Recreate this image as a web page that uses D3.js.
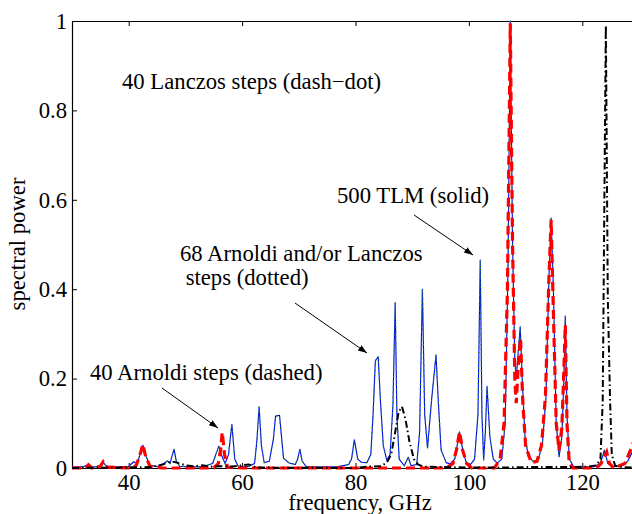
<!DOCTYPE html>
<html>
<head>
<meta charset="utf-8">
<script src="https://cdn.jsdelivr.net/npm/d3@7"></script>
<style>
  body { margin: 0; background: #fff; }
  svg { display: block; }
  text { font-family: "Liberation Serif", "Times New Roman", serif; font-size: 22.7px; fill: #000; }
</style>
</head>
<body>
<svg id="chart" width="632" height="514"></svg>
<script>
// frequency (GHz), spectral power
var tlm500 = [
  [30,0.002],[32,0.003],[32.9,0.008],[33.6,0.002],[35,0.004],[35.5,0.012],[36.2,0.003],[38,0.002],
  [40,0.004],[40.9,0.014],[41.5,0.01],[42,0.03],[42.5,0.051],[43,0.028],[43.7,0.006],[45,0.003],
  [46.2,0.01],[46.8,0.016],[47.3,0.01],[47.7,0.03],[48,0.042],[48.4,0.015],[49,0.004],[51,0.002],
  [53,0.003],[54.8,0.01],[55.5,0.035],[55.9,0.049],[56.4,0.028],[57,0.01],[57.6,0.03],[58.2,0.098],
  [58.7,0.02],[59.3,0.004],[61,0.003],[62.2,0.01],[62.6,0.06],[63,0.137],[63.4,0.05],[63.9,0.012],
  [64.8,0.015],[65.5,0.063],[65.9,0.116],[66.6,0.118],[67,0.063],[67.3,0.022],[68.3,0.011],[69.4,0.008],
  [69.8,0.02],[70.2,0.042],[70.6,0.015],[71.3,0.003],[74,0.002],[77,0.003],[78.8,0.008],[79.3,0.02],
  [79.8,0.063],[80.4,0.02],[81,0.013],[82,0.012],[82.7,0.03],[83.1,0.12],[83.5,0.24],[84,0.249],
  [84.4,0.15],[84.9,0.05],[85.5,0.018],[86.1,0.03],[86.6,0.14],[87,0.37],[87.3,0.12],[87.7,0.02],
  [88.6,0.005],[89.3,0.024],[89.8,0.005],[90.8,0.008],[91.3,0.08],[91.8,0.4],[92.2,0.12],[92.7,0.045],
  [93.4,0.15],[94.2,0.253],[94.6,0.15],[95.1,0.04],[96,0.012],[96.7,0.009],[97.5,0.02],[98.35,0.081],
  [99,0.035],[99.6,0.01],[100.3,0.008],[101,0.02],[101.6,0.12],[102,0.465],[102.3,0.12],[102.6,0.018],
  [102.9,0.08],[103.2,0.183],[103.7,0.07],[104.3,0.02],[105,0.011],[105.8,0.02],[106.4,0.1],[106.9,0.45],
  [107.3,1.0],[107.7,0.5],[108.1,0.24],[108.35,0.2],[108.7,0.26],[109.05,0.316],[109.4,0.2],[109.9,0.07],
  [110.5,0.025],[111.5,0.013],[112.3,0.02],[113,0.06],[113.6,0.16],[114.1,0.42],[114.5,0.559],[114.9,0.4],
  [115.4,0.1],[115.9,0.025],[116.4,0.07],[116.75,0.2],[117,0.34],[117.3,0.12],[117.7,0.02],[118.5,0.003],
  [120,0.002],[122,0.003],[123.2,0.01],[123.9,0.04],[124.5,0.01],[125.5,0.003],[127,0.005],[128,0.015],
  [128.8,0.035],[130,0.06]
];

// 68 Arnoldi and/or Lanczos steps coincide with the TLM reference
var arnoldiLanczos68 = tlm500;

var arnoldi40 = [
  [30,0],[32.4,0],[32.9,0.007],[33.5,0],[35,0.004],[35.5,0.014],[36.2,0.002],[40,0],
  [41.3,0.005],[42,0.03],[42.5,0.053],[43,0.025],[43.8,0.003],[46,0],[55,0],[55.8,0.01],
  [56.2,0.04],[56.5,0.08],[56.9,0.03],[57.4,0.002],[60,0],[96,0],[97.2,0.01],[97.8,0.04],
  [98.35,0.081],[98.9,0.04],[99.6,0.01],[100.5,0],[104.5,0],[105.5,0.02],[106.2,0.1],[106.8,0.4],
  [107.3,0.995],[107.7,0.5],[108.1,0.2],[108.35,0.145],[108.75,0.24],[109.1,0.29],[109.5,0.15],[110,0.05],
  [111,0.012],[112,0.015],[112.8,0.05],[113.5,0.16],[114.1,0.42],[114.5,0.555],[114.9,0.35],[115.4,0.1],
  [115.9,0.04],[116.4,0.09],[116.8,0.24],[117,0.32],[117.3,0.1],[117.7,0.01],[118.3,0],[122.5,0],
  [123.3,0.01],[124.3,0.036],[124.8,0.01],[125.5,0],[127.5,0.01],[128.5,0.04],[130,0.09]
];

var lanczos40 = [
  [30,0],[44,0.002],[46,0.008],[47.5,0.015],[48.5,0.012],[50,0.006],[51.5,0.004],[53,0.006],
  [54.5,0.003],[56,0.004],[58,0.003],[60,0.006],[61.2,0.008],[62.5,0.001],[80,0],[82,0.003],
  [84.5,0.004],[85.5,0.012],[86.3,0.03],[87,0.08],[87.6,0.125],[88.2,0.137],[88.8,0.11],[89.5,0.06],
  [90.3,0.02],[91,0.008],[92,0.003],[100,0.001],[106,0.001],[110,0.002],[118,0.002],[121,0.003],
  [122.5,0.006],[123.2,0.02],[123.6,0.15],[123.75,0.38],[124.15,0.99],[124.5,0.38],[124.9,0.15],[125.2,0.03],
  [125.8,0.005],[127,0.002],[130,0]
];

var xTicks = [40, 60, 80, 100, 120];
var yTicks = [0, 0.2, 0.4, 0.6, 0.8, 1];

var notes = [
  {lines: ["40 Lanczos steps (dash\u2212dot)"], x: 122, y: 89},
  {lines: ["500 TLM (solid)"], x: 337, y: 203},
  {lines: ["68 Arnoldi and/or Lanczos", " steps (dotted)"], x: 180, y: 261},
  {lines: ["40 Arnoldi steps (dashed)"], x: 90, y: 380}
];
var arrows = [
  [[414, 215], [473, 255]],
  [[295, 303], [367, 353]],
  [[162, 388], [218, 428]]
];

var svg = d3.select("#chart");
var plotLeft = 72, plotTop = 21, plotBottom = 468, plotRight = 639;

var x = d3.scaleLinear().domain([30, 130]).range([plotLeft, plotRight]);
var y = d3.scaleLinear().domain([0, 1]).range([plotBottom, plotTop]);

var defs = svg.append("defs");
defs.append("marker")
    .attr("id", "head")
    .attr("viewBox", "0 0 10 10")
    .attr("refX", 10).attr("refY", 5)
    .attr("markerWidth", 9).attr("markerHeight", 9)
    .attr("markerUnits", "userSpaceOnUse")
    .attr("orient", "auto")
  .append("path")
    .attr("d", "M0,1.5L10,5L0,8.5Z")
    .attr("fill", "#000");

defs.append("clipPath")
    .attr("id", "plot")
  .append("rect")
    .attr("x", plotLeft).attr("y", plotTop - 2)
    .attr("width", plotRight - plotLeft).attr("height", plotBottom - plotTop + 4);

// axes
var fmt = function(d){ return d3.format("~g")(d); };

svg.append("g")
    .attr("transform", `translate(${plotLeft},0)`)
    .call(d3.axisLeft(y).tickValues(yTicks).tickFormat(fmt).tickSizeInner(-5).tickSizeOuter(0).tickPadding(5));

svg.append("g")
    .attr("transform", `translate(0,${plotBottom})`)
    .call(d3.axisBottom(x).tickValues(xTicks).tickSizeInner(-5).tickSizeOuter(0).tickPadding(6));

svg.append("g")
    .attr("transform", `translate(0,${plotTop})`)
    .call(d3.axisTop(x).tickValues(xTicks).tickFormat("").tickSizeInner(-5).tickSizeOuter(0));

svg.selectAll(".domain").attr("stroke", "#000").attr("stroke-width", 1.2);
svg.selectAll(".tick line").attr("stroke", "#000");
svg.selectAll(".tick text")
    .attr("font-family", "Liberation Serif, Times New Roman, serif")
    .attr("font-size", 22.7)
    .attr("fill", "#000");

// series
var line = d3.line()
    .x(function(d){ return x(d[0]); })
    .y(function(d){ return y(d[1]); });

var g = svg.append("g").attr("clip-path", "url(#plot)");

g.append("path").datum(tlm500)
    .attr("d", line).attr("fill", "none")
    .attr("stroke", "#0000ff").attr("stroke-width", 1.1)
    .attr("stroke-linejoin", "round");

g.append("path").datum(arnoldiLanczos68)
    .attr("d", line).attr("fill", "none")
    .attr("stroke", "#1a9a1a").attr("stroke-width", 1.4)
    .attr("stroke-dasharray", "1.2,4");

g.append("path").datum(arnoldi40)
    .attr("d", line).attr("fill", "none")
    .attr("stroke", "#ff0000").attr("stroke-width", 3.2)
    .attr("stroke-dasharray", "9,5");

g.append("path").datum(lanczos40)
    .attr("d", line).attr("fill", "none")
    .attr("stroke", "#000").attr("stroke-width", 2)
    .attr("stroke-dasharray", "7,3,1.5,3");

// annotations
notes.forEach(function(n){
    var t = svg.append("text").attr("x", n.x).attr("y", n.y).attr("xml:space", "preserve");
    n.lines.forEach(function(s, i){
        t.append("tspan").attr("x", n.x).attr("dy", i === 0 ? 0 : 24).text(s);
    });
});

svg.selectAll(".arrow")
    .data(arrows)
    .enter()
    .append("line")
    .attr("class", "arrow")
    .attr("x1", function(d){ return d[0][0]; })
    .attr("y1", function(d){ return d[0][1]; })
    .attr("x2", function(d){ return d[1][0]; })
    .attr("y2", function(d){ return d[1][1]; })
    .attr("stroke", "#000").attr("stroke-width", 1)
    .attr("marker-end", "url(#head)");

// axis titles
svg.append("text")
    .attr("x", 360).attr("y", 510)
    .attr("text-anchor", "middle")
    .text("frequency, GHz");

svg.append("text")
    .attr("transform", "translate(25,244) rotate(-90)")
    .attr("text-anchor", "middle")
    .text("spectral power");
</script>
</body>
</html>
